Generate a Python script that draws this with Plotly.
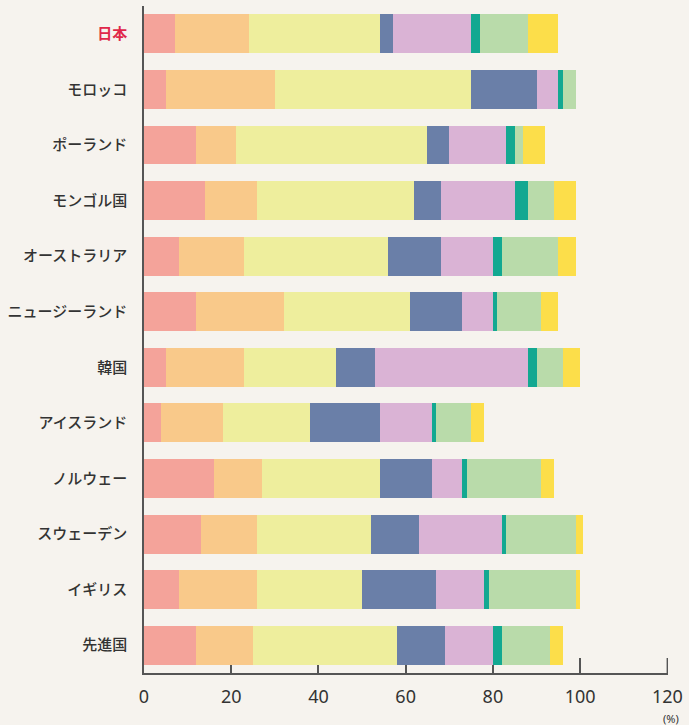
import plotly.graph_objects as go

countries = ["日本", "モロッコ", "ポーランド", "モンゴル国", "オーストラリア", "ニュージーランド",
             "韓国", "アイスランド", "ノルウェー", "スウェーデン", "イギリス", "先進国"]

seg1 = [7, 5, 12, 14, 8, 12, 5, 4, 16, 13, 8, 12]
seg2 = [17, 25, 9, 12, 15, 20, 18, 14, 11, 13, 18, 13]
seg3 = [30, 45, 44, 36, 33, 29, 21, 20, 27, 26, 24, 33]
seg4 = [3, 15, 5, 6, 12, 12, 9, 16, 12, 11, 17, 11]
seg5 = [18, 5, 13, 17, 12, 7, 35, 12, 7, 19, 11, 11]
seg6 = [2, 1, 2, 3, 2, 1, 2, 1, 1, 1, 1, 2]
seg7 = [11, 3, 2, 6, 13, 10, 6, 8, 17, 16, 20, 11]
seg8 = [7, 0, 5, 5, 4, 4, 4, 3, 3, 1.6, 1, 3]

series = [seg1, seg2, seg3, seg4, seg5, seg6, seg7, seg8]
colors = ["#F4A39A", "#F9C98A", "#EEEE9D", "#6A7FA8", "#DAB3D5", "#13A891", "#B9DBAA", "#FCDE4A"]

x_ticks = [0, 20, 40, 60, 80, 100, 120]

ticktext = ['<span style="color:#E0284A"><b>日本</b></span>'] + countries[1:]

fig = go.Figure()
for vals, col in zip(series, colors):
    fig.add_trace(go.Bar(
        y=countries, x=vals, orientation="h",
        marker=dict(color=col, line=dict(width=0)),
        showlegend=False, hoverinfo="skip"
    ))

plot_h = 725 - 6 - 52
bg = "#F6F3EE"
fig.update_layout(
    barmode="stack",
    bargap=0.3,
    width=689, height=725,
    margin=dict(l=144, r=17, t=6, b=52),
    paper_bgcolor=bg, plot_bgcolor=bg,
    font=dict(family="Noto Sans CJK JP", color="#333333"),
    xaxis=dict(
        range=[0, 120.15], tickvals=x_ticks, ticktext=[str(v) for v in x_ticks],
        showgrid=False, zeroline=False,
        showline=True, linecolor="#555555", linewidth=1.5,
        ticks="inside", ticklen=15, tickwidth=1.5, tickcolor="#555555",
        layer="below traces",
        tickfont=dict(family="Noto Sans", size=18, color="#333333"),
        ticklabelstandoff=7,
        fixedrange=True,
    ),
    yaxis=dict(
        categoryorder="array", categoryarray=countries, autorange="reversed",
        tickvals=countries, ticktext=ticktext,
        showgrid=False, zeroline=False,
        showline=True, linecolor="#555555", linewidth=1.5,
        ticks="", ticklabelstandoff=12,
        tickfont=dict(family="Noto Sans CJK JP", size=15, color="#333333", weight=500),
        layer="below traces",
        fixedrange=True,
    ),
    shapes=[
        dict(type="line", xref="x", yref="paper", x0=x_ticks[-1], x1=x_ticks[-1],
             y0=0, y1=15 / plot_h, line=dict(color="#555555", width=1.5), layer="below"),
    ],
    annotations=[
        dict(text="(%)", x=1.0, xref="paper", xanchor="right", xshift=13,
             y=-45 / plot_h, yref="paper", yanchor="middle", showarrow=False,
             font=dict(family="Noto Sans", size=11, color="#333333")),
    ],
)

fig.write_html("out.html")
